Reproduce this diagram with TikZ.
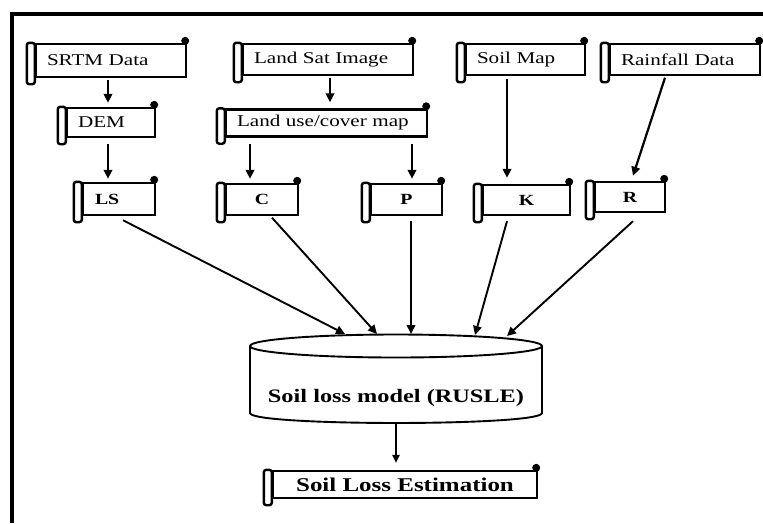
\documentclass[tikz,border=0pt]{standalone}
\usepackage{fontspec}
\setmainfont{Liberation Serif}[FakeStretch=1.28]
\usetikzlibrary{arrows.meta,calc}
\tikzset{
 scrollbox/.style={draw, line width=2.4pt, inner xsep=11pt, inner ysep=0pt, align=left, font=\fontsize{16.5}{18}\selectfont},
 letterbox/.style={draw, line width=2.4pt, inner sep=0pt, align=center, font=\bfseries\fontsize{15.5}{17}\selectfont},
 arr/.style={line width=2.2pt, -{Triangle[length=9pt,width=8.5pt]}},
 feed/.style={line width=1.9pt, -{Triangle[length=9pt,width=8.5pt]}},
 thinarr/.style={line width=1.2pt, -{Triangle[length=8pt,width=7.5pt]}},
 cylline/.style={line width=1.9pt},
}
\newcommand{\scrollcurl}[1]{%
 \draw[line width=2.4pt, rounded corners=2.5pt, fill=white] ($(#1.north west)+(-8,0)$) rectangle ($(#1.south west)+(0,6)$);
 \fill ($(#1.north east)+(-2,-2)$) circle[radius=4pt];
}
\begin{document}
\begin{tikzpicture}[x=1pt,y=-1pt]
\useasboundingbox (0,0) rectangle (763,523);
% frame
\draw[line width=3.5pt] (12,523) -- (12,14) -- (763,14);

% top row
\node[scrollbox, text width=128pt, minimum height=33pt] (srtm) at (111,60.5) {SRTM Data};
\node[scrollbox, text width=148pt, minimum height=31pt] (landsat) at (328,59.5) {Land Sat Image};
\node[scrollbox, text width=97pt, minimum height=31pt] (soilmap) at (525.5,59.5) {Soil Map};
\node[scrollbox, text width=128pt, minimum height=31pt] (rain) at (685,59.5) {Rainfall Data};
% second row
\node[scrollbox, text width=66pt, minimum height=29pt] (dem) at (111,122.5) {DEM};
\node[scrollbox, text width=179pt, minimum height=27pt] (landuse) at (326.5,123) {Land use/cover map};
% factor row
\node[letterbox, text width=48pt, inner xsep=12pt, align=left, minimum height=32pt] (LS) at (119,199) {LS};
\node[letterbox, minimum width=72pt, minimum height=31pt] (C) at (262,199.5) {C};
\node[letterbox, minimum width=71pt, minimum height=31pt] (P) at (406.5,199.5) {P};
\node[letterbox, minimum width=87pt, minimum height=30pt] (K) at (526.5,200) {K};
\node[letterbox, minimum width=70pt, minimum height=30pt] (R) at (630,197) {R};
% result
\node[draw, line width=2.4pt, inner sep=0pt, minimum width=264pt, minimum height=27pt, font=\bfseries\fontsize{19.5}{21}\selectfont] (est) at (405,484.5) {Soil Loss Estimation};

\foreach \n in {srtm,landsat,soilmap,rain,dem,landuse,LS,C,P,K,R,est} {\scrollcurl{\n}}

% cylinder
\node[inner sep=0pt, font=\bfseries\fontsize{19}{21}\selectfont] (cyl) at (396,398) {Soil loss model (RUSLE)};
\draw[cylline] ($(cyl)+(0,-52)$) ellipse[x radius=146pt, y radius=11.5pt];
\draw[cylline] ($(cyl)+(-146,-52)$) -- ($(cyl)+(-146,15)$) .. controls ($(cyl)+(-146,28.3)$) and ($(cyl)+(146,28.3)$) .. ($(cyl)+(146,15)$) -- ($(cyl)+(146,-52)$);
\coordinate (t1) at ($(cyl)+(-51,-64)$);
\coordinate (t2) at ($(cyl)+(-19,-64)$);
\coordinate (t3) at ($(cyl)+(15,-64)$);
\coordinate (t4) at ($(cyl)+(79,-63)$);
\coordinate (t5) at ($(cyl)+(111,-62)$);
\coordinate (cylbot) at ($(cyl)+(0,26)$);

% arrows
\draw[arr] ($(srtm.south)+(-3,1.5)$) -- ($(dem.north)+(-3,-4)$);
\draw[arr] ($(landsat.south)+(2,1.5)$) -- ($(landuse.north)+(3.5,-6)$);
\draw[arr] ($(dem.south)+(-3,6)$) -- ($(LS.north)+(-11,-3)$);
\draw[arr] ($(landuse.south)+(-76.5,6.5)$) -- ($(C.north)+(-12,-4)$);
\draw[arr] ($(landuse.south)+(85.5,6.5)$) -- ($(P.north)+(5.5,-4)$);
\draw[arr] ($(soilmap.south)+(-18.5,3)$) -- ($(K.north)+(-19.5,-6)$);
\draw[arr] ($(rain.south)+(-20,1.5)$) -- ($(R.north)+(3,-5)$);

\draw[feed] ($(LS.south)+(4,4)$) -- (t1);
\draw[feed] ($(C.south)+(10,1.5)$) -- (t2);
\draw[feed] ($(P.south)+(4.5,5)$) -- (t3);
\draw[feed] ($(K.south)+(-19.5,5)$) -- (t4);
\draw[feed] ($(R.south)+(3,8)$) -- (t5);

\draw[thinarr, shorten >=7pt] (cylbot) -- (cylbot |- est.north);
\end{tikzpicture}
\end{document}
